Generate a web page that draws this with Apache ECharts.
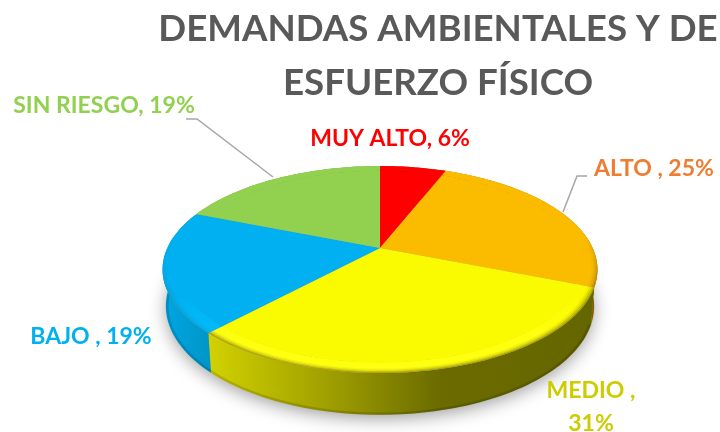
<!DOCTYPE html>
<html><head><meta charset="utf-8">
<style>html,body{margin:0;padding:0;background:#fff}#c{width:720px;height:432px}</style>
<script src="https://cdn.jsdelivr.net/npm/echarts@6/dist/echarts.min.js"></script>
</head><body><div id="c"></div>
<script>
const titleLines = ['DEMANDAS AMBIENTALES Y DE', 'ESFUERZO FÍSICO'];
const categories = ['MUY ALTO', 'ALTO ', 'MEDIO ', 'BAJO ', 'SIN RIESGO'];
const values = [6, 25, 31, 19, 19];
const topColors = ['#FF0000', '#FBBC00', '#FAFA00', '#00B0F0', '#92D050'];
const rimColors = ['#FF0000', '#FBBC00', '#FFFF10', '#00BEFF', '#92D050'];
const labelColors = ['#FF0000', '#ED7D31', '#CCCC00', '#00B0F0', '#92D050'];
const shadeStrength = [1, 1, 1, 0.25, 1];
const wallStops = [
  [[0, '#B00000'], [1, '#B00000']],
  [[0, '#B87A00'], [1, '#A06A00']],
  [[0, '#D2D200'], [0.34, '#9A9A00'], [0.6, '#6B6B00'], [1, '#666600']],
  [[0, '#00A6E2'], [1, '#0096C8']],
  [[0, '#6F9F3C'], [1, '#6F9F3C']]
];
// Layout: label anchors and leader routes (not data)
const labelPos = [[390, 139], [654, 169], [591, 391], [91, 337], [104, 106]];
const leaders = [null, [[587, 176], [577, 176], [563, 212]], null, null, [[186, 119], [197, 119], [273, 177]]];
// Perspective projection of the disc: top face and bottom face
const CX = 380, K = 0.208;
const TOP = { rx: 212.7, ry: 99, cy: 248 }, BOT = { rx: 209.5, ry: 104, cy: 283.5 };
function proj(deg, r, f) {
  const t = deg * Math.PI / 180, u = Math.sin(t) * r, v = Math.cos(t) * r;
  const d = 1 + K * v;
  return [CX + f.rx * u / d, f.cy - f.ry * v / d];
}
const total = values.reduce((a, b) => a + b, 0);
function angles(i) {
  let s = 0;
  for (let j = 0; j < i; j++) s += values[j];
  return [s / total * 360, (s + values[i]) / total * 360];
}
function arc(a0, a1, r, f) {
  const pts = [], n = Math.max(4, Math.ceil((a1 - a0) / 1.5));
  for (let k = 0; k <= n; k++) pts.push(proj(a0 + (a1 - a0) * k / n, r, f));
  return pts;
}
const seriesData = values.map((v, i) => ({ name: categories[i], value: v }));
const RIM = 0.93;
const SHADE = [[0.972, 0.05], [0.98, 0.1], [0.988, 0.16], [0.995, 0.22]];

const chart = echarts.init(document.getElementById('c'), null, { renderer: 'canvas' });
chart.setOption({
  animation: false,
  backgroundColor: '#fff',
  title: {
    text: titleLines.join('\n'), left: 433, top: -3, textAlign: 'center',
    textStyle: { fontFamily: 'Lato', fontWeight: 'bold', fontSize: 36.7, lineHeight: 54, color: '#595959' }
  },
  xAxis: { show: false }, yAxis: { show: false },
  series: [
    { // shadow + side wall
      type: 'custom', coordinateSystem: 'none', data: seriesData, silent: true, z: 1, clip: false,
      renderItem(p, api) {
        const i = p.dataIndex, [a0, a1] = angles(i);
        const top = arc(a0, a1, 1, TOP), bot = arc(a0, a1, 1, BOT);
        const children = [];
        if (i === 0) children.push({
          type: 'polygon', shape: { points: arc(0, 360, 0.995, BOT) },
          style: { fill: '#999', shadowBlur: 18, shadowColor: 'rgba(0,0,0,0.4)', shadowOffsetY: 4 }
        });
        children.push({
          type: 'polygon', shape: { points: top.concat(bot.slice().reverse()) },
          style: { fill: { type: 'linear', x: 0, y: 0, x2: 1, y2: 0,
            colorStops: wallStops[i].map(s => ({ offset: s[0], color: s[1] })) } }
        });
        children.push({ type: 'polyline', shape: { points: arc(a0, a1, 0.993, BOT) },
          style: { fill: 'none', stroke: 'rgba(0,0,0,0.14)', lineWidth: 2.5 } });
        return { type: 'group', children };
      }
    },
    { // top face, bevel rim and edge shading
      type: 'custom', coordinateSystem: 'none', data: seriesData, silent: true, z: 2, clip: false,
      renderItem(p, api) {
        const i = p.dataIndex, [a0, a1] = angles(i);
        const rimFill = { type: 'linear', x: 0, y: 250, x2: 0, y2: 375, global: true, colorStops: [
          { offset: 0, color: topColors[i] }, { offset: 0.35, color: topColors[i] }, { offset: 0.7, color: rimColors[i] }, { offset: 1, color: rimColors[i] }] };
        const children = [
          { type: 'polygon', shape: { points: arc(a0, a1, 1, TOP).concat(arc(a0, a1, RIM, TOP).reverse()) }, style: { fill: rimFill } },
          { type: 'polygon', shape: { points: [[CX, TOP.cy]].concat(arc(a0, a1, RIM + 0.003, TOP)) }, style: { fill: topColors[i] } }
        ];
        SHADE.forEach(([r, a]) => {
          const alpha = a * shadeStrength[i];
          children.push({ type: 'polygon',
            shape: { points: arc(a0, a1, 1, TOP).concat(arc(a0, a1, r, TOP).reverse()) },
            style: { fill: { type: 'linear', x: 0, y: 235, x2: 0, y2: 300, global: true, colorStops: [
              { offset: 0, color: 'rgba(60,40,0,0)' }, { offset: 1, color: `rgba(60,40,0,${alpha})` }] } } });
        });
        return { type: 'group', children };
      }
    },
    { // labels and leaders
      type: 'custom', coordinateSystem: 'none', data: seriesData, silent: true, z: 3, clip: false,
      renderItem(p, api) {
        const i = p.dataIndex, children = [];
        const text = i === 2 ? `${categories[i]},\n${values[i]}%` : `${categories[i]}, ${values[i]}%`;
        children.push({ type: 'text', x: labelPos[i][0], y: labelPos[i][1] + (i === 2 ? 16.5 : 0),
          style: { text, fill: labelColors[i], align: 'center', verticalAlign: 'middle',
            fontFamily: 'Lato', fontWeight: 'bold', fontSize: 23, lineHeight: 33 } });
        if (leaders[i]) children.push({ type: 'polyline', shape: { points: leaders[i] },
          style: { stroke: '#A6A6A6', lineWidth: 1.5, fill: 'none' } });
        return { type: 'group', children };
      }
    }
  ]
});
</script></body></html>
